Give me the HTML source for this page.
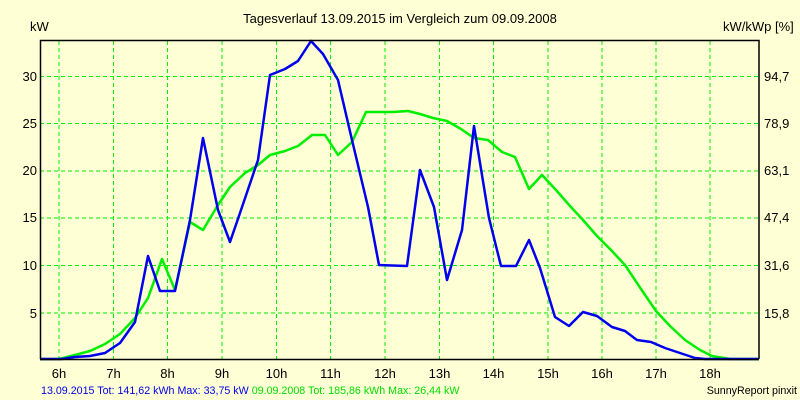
<!DOCTYPE html>
<html><head><meta charset="utf-8"><style>
html,body{margin:0;padding:0;background:#ffffd5;}
svg{display:block;font-family:"Liberation Sans",sans-serif;}
</style></head><body>
<svg width="800" height="400" viewBox="0 0 800 400" xmlns="http://www.w3.org/2000/svg">
<rect width="800" height="400" fill="#ffffd5"/>
<g stroke="#00ee00" stroke-width="1" stroke-dasharray="4,3" fill="none">
<line x1="59" y1="41" x2="59" y2="359"/><line x1="113.5" y1="41" x2="113.5" y2="359"/><line x1="167.5" y1="41" x2="167.5" y2="359"/><line x1="222" y1="41" x2="222" y2="359"/><line x1="276.5" y1="41" x2="276.5" y2="359"/><line x1="330.5" y1="41" x2="330.5" y2="359"/><line x1="385" y1="41" x2="385" y2="359"/><line x1="439.5" y1="41" x2="439.5" y2="359"/><line x1="493.5" y1="41" x2="493.5" y2="359"/><line x1="548" y1="41" x2="548" y2="359"/><line x1="602" y1="41" x2="602" y2="359"/><line x1="656" y1="41" x2="656" y2="359"/><line x1="710" y1="41" x2="710" y2="359"/>
<line x1="40" y1="76.5" x2="759" y2="76.5"/><line x1="40" y1="123.5" x2="759" y2="123.5"/><line x1="40" y1="171" x2="759" y2="171"/><line x1="40" y1="218" x2="759" y2="218"/><line x1="40" y1="265.5" x2="759" y2="265.5"/><line x1="40" y1="313" x2="759" y2="313"/>
</g>
<polyline fill="none" stroke="#00ee00" stroke-width="2.5" stroke-linejoin="round" points="40,359 59,359 75,355 90,351 105,344 120,334 135,318 148,298 162,259 175,290 190,222 203,230 218,205 230,187 245,173 258,165 270,155 285,151 298,146 312,135 325,135 338,155 352,142 366,112 393,112 408,111 420,114 433,118 447,121 461,129 474,138 488,140 502,152 515,157 529,189 542,175 556,190 570,206 583,220 597,236 611,250 625,265 641,289 656,311 670,326 685,340 700,350 712,356 730,359 759,359"/>
<polyline fill="none" stroke="#0000ee" stroke-width="2.5" stroke-linejoin="round" points="40,359 62,359 75,357 90,356 105,353 120,343 135,322 148,256 160,291 175,291 190,220 203,138 218,210 230,242 240,213 258,160 270,75 285,69 298,61 311,41 323,54 338,80 352,140 368,207 379,265 407,266 420,170 434,207 447,280 462,230 474,126 489,218 501,266 516,266 529,240 540,268 555,317 569,326 583,312 597,316 612,327 625,331 637,340 651,342 665,348 680,353 695,358 705,359 759,359"/>
<polyline fill="none" stroke="#000" stroke-width="1.5" points="40.5,359 40.5,40.5 759,40.5 759,359"/>
<line x1="40" y1="359.5" x2="759" y2="359.5" stroke="#000" stroke-width="1.5"/>
<g font-size="13" fill="#000">
<text x="400" y="23" text-anchor="middle">Tagesverlauf 13.09.2015 im Vergleich zum 09.09.2008</text>
<text x="30" y="31">kW</text>
<text x="723" y="31">kW/kWp [%]</text>
<g text-anchor="end"><text x="37" y="81">30</text><text x="37" y="128">25</text><text x="37" y="175">20</text><text x="37" y="222">15</text><text x="37" y="270">10</text><text x="37" y="318">5</text></g>
<g><text x="764" y="81">94,7</text><text x="764" y="128">78,9</text><text x="764" y="175">63,1</text><text x="764" y="222">47,4</text><text x="764" y="270">31,6</text><text x="764" y="318">15,8</text></g>
<g text-anchor="middle"><text x="59" y="378">6h</text><text x="113.5" y="378">7h</text><text x="167.5" y="378">8h</text><text x="222" y="378">9h</text><text x="276.5" y="378">10h</text><text x="330.5" y="378">11h</text><text x="385" y="378">12h</text><text x="439.5" y="378">13h</text><text x="493.5" y="378">14h</text><text x="548" y="378">15h</text><text x="602" y="378">16h</text><text x="656" y="378">17h</text><text x="710" y="378">18h</text></g>
</g>
<text x="41" y="394" font-size="10.7" fill="#0000ee">13.09.2015 Tot: 141,62 kWh Max: 33,75 kW <tspan fill="#00dd00">09.09.2008 Tot: 185,86 kWh Max: 26,44 kW</tspan></text>
<text x="797" y="394" font-size="10.7" fill="#000" text-anchor="end">SunnyReport pinxit</text>
</svg>
</body></html>
